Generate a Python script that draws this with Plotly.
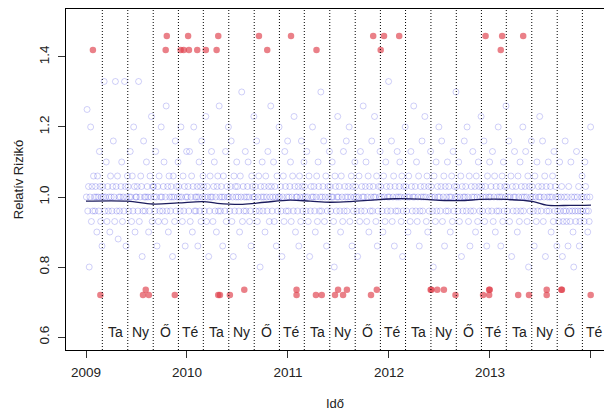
import pandas as pd
import plotly.graph_objects as go

# Daily relative risk, sampled values per month (Jan..Dec) for each year
rr_2009 = [
    [1.00, 1.25, 0.96, 1.03, 0.80, 1.00, 1.20, 0.93, 1.03, 0.96, 1.06, 1.00],
    [0.96, 1.03, 1.00, 0.90, 1.06, 1.00, 0.96, 1.13, 1.03, 0.93, 1.00, 0.86],
    [1.03, 1.00, 1.33, 0.96, 1.00, 1.10, 0.93, 1.03, 0.96, 1.00, 0.90, 1.06],
    [1.00, 0.96, 1.03, 1.16, 1.00, 0.93, 1.33, 1.03, 0.96, 1.06, 0.88, 1.00],
    [0.96, 1.00, 1.03, 1.10, 0.93, 1.00, 0.96, 1.33, 1.03, 0.86, 1.00, 1.06],
    [1.03, 0.96, 1.00, 1.13, 1.00, 0.93, 1.06, 0.96, 1.20, 1.03, 0.90, 1.00],
    [1.00, 1.03, 0.96, 1.33, 0.93, 1.00, 1.06, 1.03, 0.83, 0.96, 1.16, 1.00],
    [0.96, 1.00, 1.10, 1.03, 1.00, 0.90, 0.96, 1.06, 1.00, 1.23, 0.93, 1.03],
    [1.03, 1.00, 0.96, 1.13, 1.00, 0.86, 1.03, 0.93, 1.06, 0.96, 1.00, 1.20],
    [1.00, 0.96, 1.03, 1.10, 0.93, 1.00, 1.26, 0.96, 1.03, 0.90, 1.06, 1.00],
    [0.96, 1.03, 1.00, 0.83, 1.06, 1.00, 0.93, 1.16, 0.96, 1.03, 1.00, 1.10],
    [1.03, 1.00, 0.96, 1.20, 1.00, 0.93, 1.06, 0.96, 1.03, 0.86, 1.00, 1.13],
]
rr_2010 = [
    [1.00, 1.03, 0.96, 1.13, 0.93, 1.00, 1.06, 0.90, 1.03, 1.20, 0.96, 1.00],
    [0.96, 1.00, 1.03, 0.86, 1.00, 1.10, 0.96, 1.03, 0.93, 1.16, 1.00, 1.06],
    [1.03, 0.96, 1.00, 1.23, 0.93, 1.03, 1.00, 0.83, 0.96, 1.06, 1.00, 1.13],
    [1.00, 0.93, 1.03, 1.10, 0.96, 1.00, 0.90, 1.03, 1.06, 0.96, 1.26, 1.00],
    [0.96, 1.03, 1.00, 0.86, 1.06, 1.00, 0.96, 1.13, 0.93, 1.03, 1.00, 1.20],
    [1.00, 0.96, 1.03, 1.16, 0.93, 1.00, 0.83, 1.06, 0.96, 1.03, 1.00, 1.10],
    [1.03, 1.00, 0.96, 0.90, 1.06, 1.00, 1.30, 0.93, 1.03, 0.96, 1.00, 1.13],
    [0.96, 1.00, 1.03, 1.10, 1.00, 0.93, 0.96, 0.86, 1.06, 1.03, 1.00, 1.23],
    [1.00, 1.03, 0.96, 1.16, 0.93, 1.00, 1.06, 0.96, 0.80, 1.03, 1.00, 1.10],
    [0.96, 1.00, 1.03, 0.90, 1.06, 1.00, 0.96, 1.13, 1.03, 0.93, 1.00, 1.26],
    [1.03, 0.96, 1.00, 1.10, 0.93, 1.03, 1.00, 0.86, 1.06, 0.96, 1.00, 1.20],
    [1.00, 1.03, 0.96, 0.83, 1.00, 1.06, 0.93, 1.13, 1.03, 0.96, 1.00, 1.16],
]
rr_2011 = [
    [0.96, 1.00, 1.03, 1.10, 0.93, 1.00, 1.06, 0.96, 1.23, 1.03, 0.90, 1.00],
    [1.00, 0.96, 1.03, 0.86, 1.06, 1.00, 0.93, 1.16, 1.03, 0.96, 1.00, 1.10],
    [1.03, 1.00, 0.96, 1.13, 1.00, 0.93, 1.06, 0.83, 0.96, 1.03, 1.00, 1.20],
    [1.00, 1.03, 0.96, 0.90, 1.00, 1.06, 0.93, 1.10, 1.03, 0.96, 1.00, 1.30],
    [0.96, 1.00, 1.03, 1.16, 0.93, 1.00, 1.06, 0.86, 0.96, 1.03, 1.00, 1.13],
    [1.03, 0.96, 1.00, 1.10, 1.00, 0.93, 0.80, 1.06, 1.03, 0.96, 1.00, 1.23],
    [1.00, 1.03, 0.96, 0.90, 1.06, 1.00, 0.93, 1.13, 0.96, 1.03, 1.00, 1.16],
    [0.96, 1.00, 1.03, 1.20, 0.93, 1.00, 1.06, 0.86, 1.03, 0.96, 1.00, 1.10],
    [1.03, 1.00, 0.96, 0.83, 1.00, 1.06, 0.93, 1.13, 0.96, 1.03, 1.00, 1.26],
    [1.00, 0.96, 1.03, 1.10, 0.93, 1.00, 1.06, 0.90, 1.03, 0.96, 1.00, 1.16],
    [0.96, 1.03, 1.00, 1.23, 1.00, 0.93, 1.06, 0.86, 0.96, 1.03, 1.00, 1.13],
    [1.03, 1.00, 0.96, 0.90, 1.06, 1.00, 0.93, 1.10, 1.03, 0.96, 1.00, 1.33],
]
rr_2012 = [
    [1.00, 1.03, 0.96, 1.16, 0.93, 1.00, 1.06, 0.86, 1.03, 0.96, 1.00, 1.13],
    [0.96, 1.00, 1.03, 1.10, 1.00, 0.93, 1.06, 0.83, 0.96, 1.03, 1.00, 1.20],
    [1.03, 0.96, 1.00, 0.90, 1.06, 1.00, 0.93, 1.13, 1.03, 0.96, 1.00, 1.26],
    [1.00, 1.03, 0.96, 1.10, 0.93, 1.00, 1.06, 0.86, 0.96, 1.03, 1.00, 1.16],
    [0.96, 1.00, 1.03, 1.23, 1.00, 0.93, 1.06, 0.90, 1.03, 0.96, 1.00, 1.13],
    [1.03, 1.00, 0.96, 0.80, 1.06, 1.00, 0.93, 1.10, 0.96, 1.03, 1.00, 1.20],
    [1.00, 0.96, 1.03, 1.16, 0.93, 1.00, 1.06, 0.86, 1.03, 0.96, 1.00, 1.10],
    [0.96, 1.03, 1.00, 0.90, 1.00, 1.06, 0.93, 1.13, 0.96, 1.03, 1.00, 1.30],
    [1.03, 1.00, 0.96, 1.10, 0.93, 1.00, 1.06, 0.83, 1.03, 0.96, 1.00, 1.16],
    [1.00, 1.03, 0.96, 1.20, 1.00, 0.93, 1.06, 0.86, 0.96, 1.03, 1.00, 1.13],
    [0.96, 1.00, 1.03, 0.90, 1.06, 1.00, 0.93, 1.10, 1.03, 0.96, 1.00, 1.23],
    [1.03, 0.96, 1.00, 1.16, 0.93, 1.03, 1.00, 0.86, 1.06, 0.96, 1.00, 1.10],
]
rr_2013 = [
    [1.00, 1.03, 0.96, 1.13, 0.93, 1.00, 1.06, 0.90, 1.03, 0.96, 1.00, 1.20],
    [0.96, 1.00, 1.03, 0.86, 1.00, 1.06, 0.93, 1.10, 0.96, 1.03, 1.00, 1.26],
    [1.03, 0.96, 1.00, 1.16, 0.93, 1.00, 1.06, 0.83, 1.03, 0.96, 1.00, 1.13],
    [1.00, 1.03, 0.96, 0.90, 1.06, 1.00, 0.93, 1.10, 0.96, 1.03, 1.00, 1.20],
    [0.96, 1.00, 1.03, 1.13, 1.00, 0.93, 1.06, 0.80, 1.03, 0.96, 1.00, 1.16],
    [1.03, 1.00, 0.96, 0.86, 1.06, 1.00, 0.93, 1.10, 0.96, 1.03, 1.00, 1.23],
    [1.00, 0.96, 1.03, 1.16, 0.93, 1.00, 1.06, 0.83, 1.03, 0.96, 1.00, 1.10],
    [0.96, 1.00, 1.03, 0.90, 1.00, 1.06, 0.93, 1.13, 0.96, 1.03, 1.00, 0.86],
    [0.96, 1.00, 0.93, 1.10, 0.96, 1.00, 1.03, 0.83, 0.93, 0.96, 1.00, 1.16],
    [0.96, 0.93, 1.00, 0.86, 1.03, 0.96, 0.93, 1.10, 1.00, 0.96, 0.90, 0.80],
    [1.00, 0.96, 0.93, 1.13, 1.00, 0.96, 1.03, 0.86, 0.93, 0.96, 1.00, 1.06],
    [0.96, 1.00, 0.93, 1.10, 1.03, 0.96, 1.00, 0.90, 0.96, 0.93, 1.00, 1.20],
]
rr_by_year = {2009: rr_2009, 2010: rr_2010, 2011: rr_2011, 2012: rr_2012, 2013: rr_2013}

# Flagged days (extreme relative risk)
high_dates = ["2009-01-26", "2009-10-16", "2009-10-20", "2009-12-09", "2009-12-20",
              "2010-01-05", "2010-01-08", "2010-02-07", "2010-03-10", "2010-04-18",
              "2010-04-24", "2010-09-18", "2010-10-18", "2011-01-12", "2011-04-14",
              "2011-11-05", "2011-12-02", "2011-12-14", "2012-02-07", "2012-12-16",
              "2013-02-09", "2013-02-14", "2013-05-01"]
high_rr = [1.42, 1.42, 1.46, 1.42, 1.42,
           1.46, 1.42, 1.42, 1.42, 1.42,
           1.46, 1.46, 1.42, 1.46, 1.42,
           1.46, 1.42, 1.46, 1.46, 1.46,
           1.42, 1.46, 1.46]
low_dates = ["2009-02-22", "2009-07-26", "2009-08-05", "2009-08-16", "2009-11-18",
             "2010-04-24", "2010-04-30", "2010-06-05", "2010-07-27", "2011-02-01",
             "2011-02-01", "2011-04-12", "2011-05-03", "2011-06-20", "2011-07-01",
             "2011-07-19", "2011-08-02", "2011-10-28", "2011-11-18", "2012-05-31",
             "2012-06-03", "2012-06-24", "2012-07-18", "2012-08-29", "2012-12-07",
             "2012-12-29", "2012-12-29", "2012-12-31", "2013-04-13", "2013-05-22",
             "2013-07-25", "2013-07-25", "2013-09-16", "2013-09-18", "2013-12-31"]
low_rr = [0.72, 0.72, 0.735, 0.72, 0.72,
          0.72, 0.72, 0.72, 0.735, 0.735,
          0.72, 0.72, 0.72, 0.72, 0.735,
          0.72, 0.735, 0.72, 0.735, 0.735,
          0.735, 0.735, 0.735, 0.72, 0.72,
          0.72, 0.735, 0.735, 0.72, 0.72,
          0.735, 0.72, 0.735, 0.735, 0.72]

# Smoothed trend (decimal year, relative risk)
trend_t = [2009.00, 2009.41, 2009.66, 2009.91, 2010.16, 2010.30, 2010.55, 2010.77,
           2011.02, 2011.22, 2011.42, 2011.62, 2011.86, 2012.06, 2012.31, 2012.55,
           2012.75, 2012.90, 2013.17, 2013.43, 2013.56, 2013.79, 2014.00]
trend_rr = [0.988, 0.988, 0.980, 0.983, 0.987, 0.982, 0.979, 0.985,
            0.991, 0.988, 0.985, 0.987, 0.992, 0.995, 0.994, 0.990,
            0.990, 0.993, 0.993, 0.987, 0.977, 0.976, 0.977]

season_names = ["Ta", "Ny", "Ő", "Té"]
season_start_months = [3, 6, 9, 12]
x_ticks = [2009, 2010, 2011, 2012, 2013, 2014]
y_ticks = [0.6, 0.8, 1.0, 1.2, 1.4]


def dec_year(ts):
    ts = pd.Timestamp(ts)
    days = 366 if ts.is_leap_year else 365
    return ts.year + (ts.dayofyear - 1) / days


# spread each month's values over the days of that month
blue_t, blue_y = [], []
for year, months in rr_by_year.items():
    for m, vals in enumerate(months, start=1):
        start = pd.Timestamp(year=year, month=m, day=1)
        ndays = start.days_in_month
        days_y = 366 if start.is_leap_year else 365
        for i, v in enumerate(vals):
            offset = (i + 0.5) * ndays / len(vals)
            blue_t.append(year + (start.dayofyear - 1 + offset) / days_y)
            blue_y.append(v)

fig = go.Figure()
fig.add_trace(go.Scatter(
    x=blue_t, y=blue_y, mode="markers",
    marker=dict(symbol="circle-open", size=6, color="rgba(20,20,220,0.2)",
                line=dict(width=1)),
    hoverinfo="skip", showlegend=False))
fig.add_trace(go.Scatter(
    x=trend_t, y=trend_rr, mode="lines",
    line=dict(color="#1c1c5e", width=1.3, shape="spline"),
    showlegend=False))
fig.add_trace(go.Scatter(
    x=[dec_year(d) for d in high_dates] + [dec_year(d) for d in low_dates],
    y=high_rr + low_rr, mode="markers",
    marker=dict(symbol="circle", size=6.5, color="rgba(222,60,72,0.65)"),
    showlegend=False))

# season boundaries and labels
boundaries = []
for year in range(2009, 2014):
    for m in season_start_months:
        boundaries.append(dec_year(f"{year}-{m:02d}-01"))
for b in boundaries:
    fig.add_shape(type="line", x0=b, x1=b, y0=0, y1=1, xref="x", yref="paper",
                  line=dict(color="black", width=1, dash="1px,2px"))

for k in range(len(boundaries)):
    left = boundaries[k]
    right = boundaries[k + 1] if k + 1 < len(boundaries) else dec_year("2014-03-01")
    fig.add_annotation(x=(left + right) / 2, y=0.615, text=season_names[k % 4],
                       showarrow=False, font=dict(size=14, color="#222"),
                       xanchor="center", yanchor="middle")

font = "Liberation Sans, Arial, sans-serif"
fig.update_layout(
    width=604, height=411,
    margin=dict(l=66, r=0, t=9, b=61),
    plot_bgcolor="white", paper_bgcolor="white",
    font=dict(family=font, size=13, color="#222"),
    xaxis=dict(range=[2008.802, 2014.129], tickvals=x_ticks,
               ticktext=[str(v) for v in x_ticks],
               ticks="outside", ticklen=7, tickcolor="#333",
               tickfont=dict(size=13.5),
               showline=True, mirror=True, linecolor="black", linewidth=1,
               showgrid=False, zeroline=False, ticklabelstandoff=3,
               title=dict(text="Idő", font=dict(size=13), standoff=20)),
    yaxis=dict(range=[0.563, 1.537], tickvals=y_ticks,
               ticktext=["0.6", "0.8", "1.0", "1.2", "1.4"],
               tickangle=-90, tickfont=dict(size=13.5),
               ticks="outside", ticklen=7, tickcolor="#333",
               showline=True, linecolor="black", linewidth=1,
               showgrid=False, zeroline=False, ticklabelstandoff=4,
               title=dict(text="Relatív Rizikó", font=dict(size=13), standoff=10)),
)

fig.write_html("out.html")
